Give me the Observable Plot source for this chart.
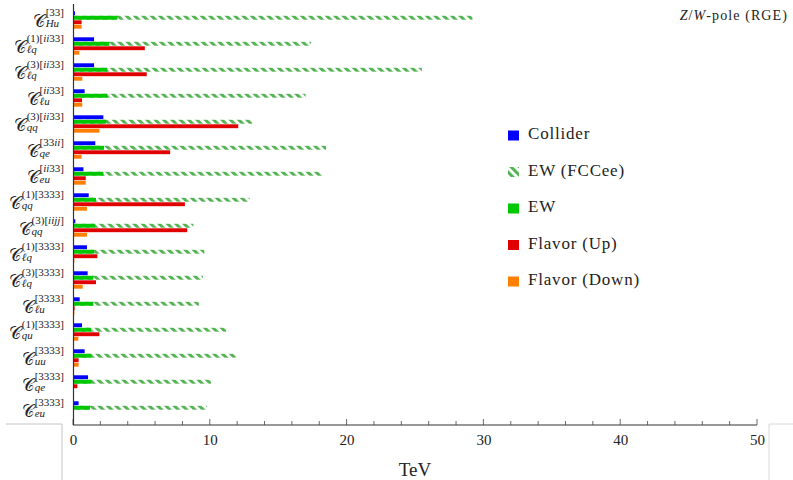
<!DOCTYPE html>
<html><head><meta charset="utf-8">
<script src="https://cdn.jsdelivr.net/npm/d3@7"></script>
<script src="https://cdn.jsdelivr.net/npm/@observablehq/plot@0.6"></script>
<style>html,body{margin:0;padding:0;background:#fff} svg{display:block}</style>
</head><body><div id="chart"></div>
<script>
// ---- data ----
const categories = ["Hu33","lq1ii33","lq3ii33","luii33","qq3ii33","qe33ii","euii33","qq13333","qq3iijj","lq13333","lq33333","lu3333","qu13333","uu3333","qe3333","eu3333"];
const supLabels = ["[33]","(1)[ii33]","(3)[ii33]","[ii33]","(3)[ii33]","[33ii]","[ii33]","(1)[3333]","(3)[iijj]","(1)[3333]","(3)[3333]","[3333]","(1)[3333]","[3333]","[3333]","[3333]"];
const subLabels = ["Hu","ℓq","ℓq","ℓu","qq","qe","eu","qq","qq","ℓq","ℓq","ℓu","qu","uu","qe","eu"];
const collider   = [0.15,1.54,1.54,0.85,2.22,1.63,0.76,1.15,0.17,1.02,1.07,0.49,0.66,0.85,1.10,0.41];
const ewFCCee    = [29.2,17.4,25.5,17.0,13.1,18.5,18.2,12.9,8.8,9.6,9.5,9.2,11.2,11.9,10.1,9.8];
const ew         = [3.25,2.66,2.51,2.51,2.42,2.27,2.22,1.68,1.59,1.54,1.49,1.49,1.32,1.34,1.34,1.24];
const flavorUp   = [0.63,5.25,5.39,0.66,12.08,7.10,0.93,8.18,8.35,1.78,1.68,0.12,1.93,0.41,0.32,0.05];
const flavorDown = [0.63,0.46,0.68,0.68,1.93,0.63,0.93,1.02,1.02,0.10,0.71,0.10,0.39,0.41,0.05,0.05];
const seriesNames = ["Collider","EW (FCCee)","EW","Flavor (Up)","Flavor (Down)"];
const seriesColors = ["#0000ff","url(#ewHatch)","#00c800","#e00000","#ff7f00"];
const xTicks = [0,10,20,30,40,50];
const xMinorTicks = d3.range(0, 51, 2);
const xLabel = "TeV";

// ---- layout ----
const W = 793, H = 480, mL = 73, mR = 36, mT = 4, mB = 55;
const bw = (H - mT - mB) / categories.length;
const rowTop = k => 4.3 + 4.5 * k, rowH = 4.2;
const insets = k => ({insetTop: rowTop(k), insetBottom: bw - rowTop(k) - rowH});
const rowsOf = (vals, s) => categories.map((c, i) => ({cat: c, value: vals[i], series: s}));
const serif = "'Liberation Serif', 'DejaVu Serif', serif";

const plot = Plot.plot({
  width: W, height: H,
  marginLeft: mL, marginRight: mR, marginTop: mT, marginBottom: mB,
  style: {fontFamily: serif, background: "#fff"},
  x: {domain: [0, 50], axis: null},
  y: {domain: categories, padding: 0, axis: null},
  color: {domain: ["Collider","EW","Flavor (Up)","Flavor (Down)"], range: ["#0000ff","#00c800","#e00000","#ff7f00"]},
  marks: [
    Plot.barX(rowsOf(ewFCCee, "EW (FCCee)"), {x: "value", y: "cat", fill: "url(#ewHatch)", ...insets(1)}),
    Plot.barX(rowsOf(collider, "Collider"), {x: "value", y: "cat", fill: "series", ...insets(0)}),
    Plot.barX(rowsOf(ew, "EW"), {x: "value", y: "cat", fill: "series", ...insets(1)}),
    Plot.barX(rowsOf(flavorUp, "Flavor (Up)"), {x: "value", y: "cat", fill: "series", ...insets(2)}),
    Plot.barX(rowsOf(flavorDown, "Flavor (Down)"), {x: "value", y: "cat", fill: "series", ...insets(3)}),
    Plot.ruleX([0], {stroke: "#333", strokeWidth: 1.2}),
    Plot.axisX(xTicks, {anchor: "bottom", tickSize: 0, tickPadding: 9, fontSize: 15, fontFamily: serif, fill: "#222", label: null})
  ]
});
document.getElementById("chart").append(plot);

const svg = d3.select(plot);
const xs = plot.scale("x"), ys = plot.scale("y");
const X = v => xs.apply(v);
const axisY = H - mB;

// hatch pattern
const defs = svg.insert("defs", ":first-child");
const pat = defs.append("pattern").attr("id", "ewHatch").attr("patternUnits", "userSpaceOnUse")
  .attr("width", 5.9).attr("height", 5.9).attr("patternTransform", "rotate(-45)");
pat.append("rect").attr("x", 0).attr("y", 0).attr("width", 3.1).attr("height", 5.9).attr("fill", "#55b355");

// axis line + inside ticks
const g = svg.append("g");
g.append("line").attr("x1", X(0)).attr("x2", X(50)).attr("y1", axisY).attr("y2", axisY).attr("stroke", "#333").attr("stroke-width", 1.2);
xMinorTicks.forEach(v => {
  const major = v % 10 === 0;
  g.append("line").attr("x1", X(v)).attr("x2", X(v)).attr("y1", axisY).attr("y2", axisY - (major ? 6 : 4))
    .attr("stroke", "#444").attr("stroke-width", 0.8);
});
// corner artefacts
g.append("path").attr("d", `M6,${axisY-1}H62V${H}`).attr("fill", "none").attr("stroke", "#c4c4c4");
g.append("path").attr("d", `M${W},${axisY-1}H769V${H}`).attr("fill", "none").attr("stroke", "#d8d8d8");

// x label
svg.append("text").attr("x", (X(0) + X(50)) / 2).attr("y", 476).attr("text-anchor", "middle")
  .attr("font-family", serif).attr("font-size", 19).attr("fill", "#222").text(xLabel);

// title
const t = svg.append("text").attr("x", 788).attr("y", 20).attr("text-anchor", "end")
  .attr("font-family", serif).attr("font-size", 14).attr("letter-spacing", 1.1).attr("fill", "#222");
t.append("tspan").attr("font-style", "italic").text("Z");
t.append("tspan").text("/");
t.append("tspan").attr("font-style", "italic").text("W");
t.append("tspan").text("-pole (RGE)");

// y labels
function fillRuns(el, str) {
  for (const ch of str) {
    el.append("tspan").attr("font-family", serif).attr("font-style", /[A-Za-zℓ]/.test(ch) ? "italic" : "normal").text(ch);
  }
}
const gl = svg.append("g").attr("font-family", serif).attr("fill", "#222").attr("text-anchor", "start");
categories.forEach((c, i) => {
  const cy = ys.apply(c) + bw / 2;
  const sup = gl.append("text").attr("text-anchor", "start").attr("y", cy - 4).attr("font-size", 11);
  fillRuns(sup, supLabels[i]);
  const sub = gl.append("text").attr("text-anchor", "start").attr("y", cy + 6.5).attr("font-size", 11);
  fillRuns(sub, subLabels[i]);
  const w = Math.max(sup.node().getComputedTextLength(), sub.node().getComputedTextLength());
  const x0 = 64 - w;
  sup.attr("x", x0); sub.attr("x", x0);
  gl.append("text").attr("x", x0 - 0.5).attr("y", cy + 6.5).attr("text-anchor", "end")
    .attr("font-size", 17).attr("font-family", "'DejaVu Serif', 'DejaVu Sans', serif").text("𝒞");
});

// legend
const gLeg = svg.append("g").attr("fill", "#222").attr("text-anchor", "start");
seriesNames.forEach((s, i) => {
  const by = 139 + i * 36.5;
  gLeg.append("rect").attr("x", 508).attr("y", by - 8.5).attr("width", 11).attr("height", 10)
    .attr("fill", seriesColors[i]);
  gLeg.append("text").attr("x", 528).attr("y", by).attr("text-anchor", "start")
    .attr("font-family", serif).attr("font-size", 17).attr("letter-spacing", 0.8).text(s);
});
</script></body></html>
